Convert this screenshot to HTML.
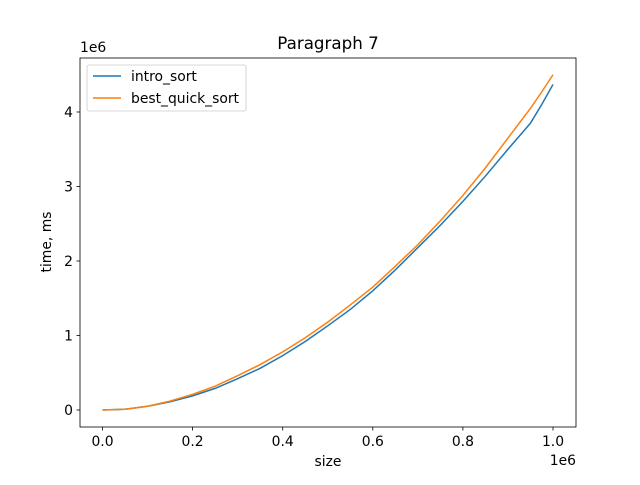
<!DOCTYPE html>
<html><head><meta charset="utf-8"><style>
body{margin:0;background:#fff}
svg text{font-family:"DejaVu Sans","Liberation Sans",sans-serif;fill:#000}
</style></head><body>
<svg id="chart" width="640" height="480" xmlns="http://www.w3.org/2000/svg"></svg>
<script>
const xs = [0,0.05,0.1,0.15,0.2,0.25,0.3,0.35,0.4,0.45,0.5,0.55,0.6,0.65,0.7,0.75,0.8,0.85,0.9,0.95,0.975,1.0];
const introSort = [0,0.01,0.05,0.11,0.19,0.29,0.42,0.56,0.73,0.92,1.13,1.35,1.6,1.88,2.18,2.48,2.8,3.14,3.5,3.85,4.1,4.37];
const bestQuickSort = [0,0.01,0.05,0.12,0.21,0.32,0.46,0.61,0.78,0.97,1.18,1.41,1.65,1.93,2.22,2.54,2.88,3.25,3.65,4.05,4.27,4.5];
const xTicks = [0,0.2,0.4,0.6,0.8,1.0];
const xTickLabels = ["0.0","0.2","0.4","0.6","0.8","1.0"];
const yTicks = [0,1,2,3,4];
const yTickLabels = ["0","1","2","3","4"];
const svg = document.getElementById('chart');
const NS = 'http://www.w3.org/2000/svg';
const L=80,R=576,T=58,B=427;
const xScale = v => 102.5 + v*450.5;
const yScale = v => 410 - v*74.5;
function mk(tag, attrs, parent){const e=document.createElementNS(NS,tag);for(const k in attrs)e.setAttribute(k,attrs[k]);(parent||svg).appendChild(e);return e;}
const frame = mk('rect',{x:L,y:T,width:R-L,height:B-T,fill:'none',stroke:'#000','stroke-width':0.8});


xTicks.forEach((v,i)=>{
  const x=xScale(v);
  const t=mk('line',{x1:x,x2:x,y1:B,y2:B+3.5,stroke:'#000','stroke-width':0.8});
  
  
  const l=mk('text',{x:x,y:B+19,'text-anchor':'middle','font-size':13.9});
  l.textContent=xTickLabels[i];
  
  
});
yTicks.forEach((v,i)=>{
  const y=yScale(v);
  const t=mk('line',{x1:L-3.5,x2:L,y1:y,y2:y,stroke:'#000','stroke-width':0.8});
  
  
  const l=mk('text',{x:L-7,y:y+5,'text-anchor':'end','font-size':13.9});
  l.textContent=yTickLabels[i];
  
  
});
function series(vals,color,name){
  const p=mk('polyline',{points:xs.map((x,i)=>xScale(x)+','+yScale(vals[i])).join(' '),fill:'none',stroke:color,'stroke-width':1.5});
  
  
}
series(introSort,'#1f77b4','intro-sort-line');
series(bestQuickSort,'#ff7f0e','best-quick-sort-line');
</script>
<svg style="position:absolute;left:0;top:0" width="640" height="480" xmlns="http://www.w3.org/2000/svg">
<text x="328" y="49" text-anchor="middle" font-size="16.7">Paragraph 7</text>
<text x="328" y="466" text-anchor="middle" font-size="13.9">size</text>
<text x="51" y="242" text-anchor="middle" font-size="13.9" transform="rotate(-90 51 242)">time, ms</text>
<text x="576" y="465" text-anchor="end" font-size="13.9">1e6</text>
<text x="80" y="52" font-size="13.9">1e6</text>
<g>
<rect x="87" y="65" width="159" height="46" rx="2" fill="#fff" stroke="#ccc" stroke-width="0.8"/>
<line x1="93" x2="121" y1="76" y2="76" stroke="#1f77b4" stroke-width="1.5"/>
<text x="131" y="81" font-size="13.9">intro_sort</text>
<line x1="93" x2="121" y1="98" y2="98" stroke="#ff7f0e" stroke-width="1.5"/>
<text x="131" y="103" font-size="13.9">best_quick_sort</text>
</g>
</svg>
</body></html>
